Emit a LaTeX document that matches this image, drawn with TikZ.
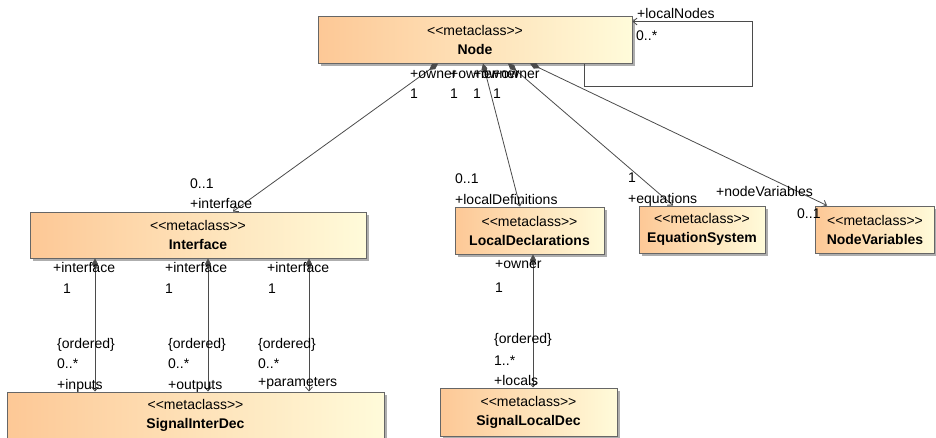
\documentclass[tikz,border=0pt]{standalone}
\usepackage{fontspec}
\newfontfamily\umlfont{Liberation Sans}
\usetikzlibrary{arrows.meta,shadows}
\definecolor{clsleft}{RGB}{253,200,150}
\definecolor{clsright}{RGB}{255,251,218}
\definecolor{edge}{RGB}{75,75,75}
\begin{document}
\begin{tikzpicture}[x=1pt, y=-1pt,
  every node/.style={font=\umlfont\fontsize{14}{19}\selectfont},
  metaclass/.style={draw=black!60, line width=1pt, left color=clsleft, right color=clsright,
    align=center, inner sep=0pt,
    drop shadow={shadow xshift=3pt, shadow yshift=-3pt, fill=black!45, opacity=.7}},
  role/.style={anchor=base west, inner sep=0pt},
  assoc/.style={draw=edge, line width=0.8pt, -{Straight Barb[length=4pt,width=7pt]}},
  comp/.style={assoc, {Diamond[length=11pt,width=6pt]}-{Straight Barb[length=4pt,width=7pt]}}]
  \useasboundingbox (0,0) rectangle (936,437);

  % classes
  \node[metaclass, minimum width=314, minimum height=47] (N) at (475,39.5)
    {<<metaclass>>\\\bfseries Node};
  \node[metaclass, minimum width=336, minimum height=46] (If) at (198,235)
    {<<metaclass>>\\\bfseries Interface};
  \node[metaclass, minimum width=149, minimum height=47] (LD) at (529.5,230.5)
    {<<metaclass>>\\\bfseries LocalDeclarations};
  \node[metaclass, minimum width=126, minimum height=47] (ES) at (702,229.5)
    {<<metaclass>>\\\bfseries EquationSystem};
  \node[metaclass, minimum width=119, minimum height=47] (NV) at (875,229.5)
    {<<metaclass>>\\\bfseries NodeVariables};
  \node[metaclass, minimum width=377, minimum height=47] (SID) at (195.5,415.5)
    {<<metaclass>>\\\bfseries SignalInterDec};
  \node[metaclass, minimum width=177, minimum height=48] (SLD) at (528.5,412)
    {<<metaclass>>\\\bfseries SignalLocalDec};

  % self association of Node
  \coordinate (loop) at (752,86);
  \draw[assoc] ([xshift=109pt]N.south) |- (loop) |- ([yshift=18pt]N.east);
  \node[role] (selfRole) at (637,18) {+localNodes};
  \node[role] (selfMult) at (636,40) {0..*};

  % compositions of Node
  \draw[comp] ([xshift=-37pt]N.south) -- ([xshift=35pt]If.north);
  \draw[comp] ([xshift=8pt]N.south) -- ([xshift=-9.5pt]LD.north);
  \draw[comp] ([xshift=33pt]N.south) -- ([xshift=-29pt]ES.north);
  \draw[comp] ([xshift=55pt]N.south) -- ([xshift=-48pt]NV.north);

  \node[role] (own1) at (410,78) {+owner};
  \node[role] (own2) at (450,78) {+owner};
  \node[role] (own3) at (473,78) {+owner};
  \node[role] (own4) at (493,78) {+owner};
  \node[role] (one1) at (410,98) {1};
  \node[role] (one2) at (450,98) {1};
  \node[role] (one3) at (473,98) {1};
  \node[role] (one4) at (493,98) {1};

  \node[role] (ifMult) at (190,188) {0..1};
  \node[role] (ifRole) at (190,208) {+interface};
  \node[role] (ldMult) at (455,183) {0..1};
  \node[role] (ldRole) at (455,204) {+localDefinitions};
  \node[role] (esMult) at (628,182) {1};
  \node[role] (esRole) at (628,203) {+equations};
  \node[role] (nvRole) at (716,196) {+nodeVariables};
  \node[role] (nvMult) at (797,218) {0..1};

  % compositions of Interface
  \draw[comp] ([xshift=-103pt]If.south) -- ([xshift=-103pt]If.south |- SID.north);
  \draw[comp] ([xshift=10pt]If.south) -- ([xshift=10pt]If.south |- SID.north);
  \draw[comp] ([xshift=111pt]If.south) -- ([xshift=111pt]If.south |- SID.north);

  \node[role] (inOwn) at (53,272) {+interface};
  \node[role] (inOne) at (63,293) {1};
  \node[role] (inOrd) at (57,348) {\{ordered\}};
  \node[role] (inMult) at (57,368) {0..*};
  \node[role] (inRole) at (57,389) {+inputs};

  \node[role] (outOwn) at (165,272) {+interface};
  \node[role] (outOne) at (165,293) {1};
  \node[role] (outOrd) at (168,348) {\{ordered\}};
  \node[role] (outMult) at (168,368) {0..*};
  \node[role] (outRole) at (168,389) {+outputs};

  \node[role] (parOwn) at (267,272) {+interface};
  \node[role] (parOne) at (268,293) {1};
  \node[role] (parOrd) at (258,348) {\{ordered\}};
  \node[role] (parMult) at (258,368) {0..*};
  \node[role] (parRole) at (258,386) {+parameters};

  % composition of LocalDeclarations
  \draw[comp] ([xshift=3.5pt]LD.south) -- ([xshift=3.5pt]LD.south |- SLD.north);
  \node[role] (locOwn) at (495,268) {+owner};
  \node[role] (locOne) at (495,292) {1};
  \node[role] (locOrd) at (494,343) {\{ordered\}};
  \node[role] (locMult) at (494,365) {1..*};
  \node[role] (locRole) at (494,385) {+locals};
\end{tikzpicture}
\end{document}
